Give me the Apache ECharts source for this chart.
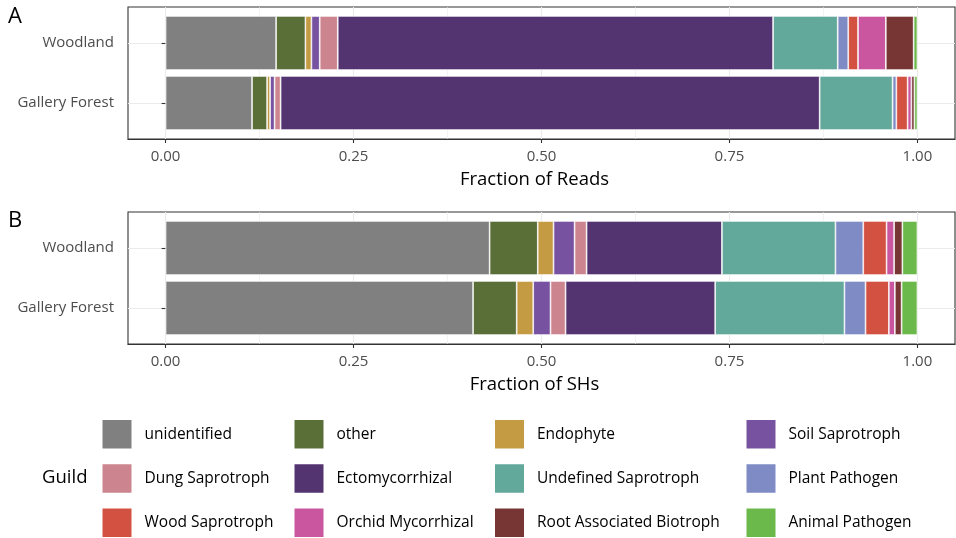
<!DOCTYPE html>
<html>
<head>
<meta charset="utf-8">
<script src="https://cdn.jsdelivr.net/npm/echarts@6/dist/echarts.min.js"></script>
<style>html,body{margin:0;padding:0;background:#fff}#c{width:956px;height:538px}</style>
</head>
<body>
<div id="c"></div>
<script>
const categories = ['Woodland', 'Gallery Forest'];
const guilds = ['unidentified', 'other', 'Endophyte', 'Soil Saprotroph',
  'Dung Saprotroph', 'Ectomycorrhizal', 'Undefined Saprotroph', 'Plant Pathogen',
  'Wood Saprotroph', 'Orchid Mycorrhizal', 'Root Associated Biotroph', 'Animal Pathogen'];
const guildColors = ['#808080', '#5a6e38', '#c49a42', '#7652a0',
  '#cc858f', '#533470', '#62a99b', '#7f8bc4',
  '#d35141', '#c9569f', '#773634', '#6bb84b'];
// Fraction of reads (panel A)
const readsWoodland = [0.147, 0.039, 0.008, 0.011, 0.024, 0.579, 0.086, 0.014, 0.013, 0.037, 0.037, 0.005];
const readsGallery  = [0.115, 0.020, 0.004, 0.006, 0.008, 0.717, 0.097, 0.005, 0.015, 0.005, 0.004, 0.004];
// Fraction of SHs (panel B)
const shsWoodland = [0.431, 0.064, 0.021, 0.028, 0.016, 0.180, 0.151, 0.037, 0.031, 0.010, 0.011, 0.020];
const shsGallery  = [0.409, 0.058, 0.022, 0.023, 0.020, 0.199, 0.172, 0.028, 0.031, 0.008, 0.009, 0.021];
const xTickValues = [0, 0.25, 0.5, 0.75, 1];
const xTickLabels = ['0.00', '0.25', '0.50', '0.75', '1.00'];
const xMinorValues = [0.125, 0.375, 0.625, 0.875];
const panelTitles = ['Fraction of Reads', 'Fraction of SHs'];

const FONT = 'Open Sans';
const GRID_LINE = '#ebebeb';
const DARK = '#333333';
const catCenters = categories.map((c, i) => 0.6 + i);

function boxAxes(gridIndex, title) {
  const xMain = {
    type: 'value', gridIndex, min: -0.05, max: 1.05, position: 'bottom',
    axisLine: {show: true, onZero: false, lineStyle: {color: DARK, width: 1.1}},
    axisTick: {show: true, length: 4, customValues: xTickValues, lineStyle: {color: DARK, width: 1.1}},
    axisLabel: {show: true, customValues: xTickValues, margin: 10, color: '#4d4d4d', fontSize: 15, fontFamily: FONT,
      formatter: v => xTickLabels[xTickValues.findIndex(t => Math.abs(t - v) < 1e-9)]},
    splitLine: {show: true, lineStyle: {color: GRID_LINE, width: 1.1}},
    name: title, nameLocation: 'middle', nameGap: 31,
    nameTextStyle: {color: '#000', fontSize: 18.5, fontFamily: FONT, padding: [0, 14, 0, 0]}
  };
  const xMinor = {
    type: 'value', gridIndex, min: -0.05, max: 1.05, position: 'top',
    axisLine: {show: false}, axisLabel: {show: false},
    axisTick: {show: false, customValues: xMinorValues},
    splitLine: {show: true, lineStyle: {color: GRID_LINE, width: 0.6}}
  };
  const y = {
    type: 'value', gridIndex, min: 0, max: 2.2, inverse: true,
    axisLine: {show: false}, axisLabel: {show: false},
    axisTick: {show: false, customValues: catCenters},
    splitLine: {show: true, lineStyle: {color: GRID_LINE, width: 1.1}}
  };
  return {x: [xMain, xMinor], y};
}
function barAxes(gridIndex) {
  return {
    x: {type: 'value', gridIndex, min: -0.05, max: 1.05, show: false},
    y: {type: 'category', gridIndex, data: categories, inverse: true,
      axisLine: {show: false},
      axisTick: {show: true, alignWithLabel: true, length: 4, lineStyle: {color: DARK, width: 1.1}},
      axisLabel: {margin: 14, color: '#4d4d4d', fontSize: 15, fontFamily: FONT},
      splitLine: {show: false}}
  };
}

const bA = boxAxes(0, panelTitles[0]), rA = barAxes(1);
const bB = boxAxes(2, panelTitles[1]), rB = barAxes(3);
const xAxis = [bA.x[0], bA.x[1], rA.x, bB.x[0], bB.x[1], rB.x];
const yAxis = [bA.y, rA.y, bB.y, rB.y];

const gridBase = {left: 128, right: 1, containLabel: false, outerBoundsMode: 'none'};
const grid = [
  Object.assign({top: 7, height: 132, show: true, borderColor: DARK, borderWidth: 1.1, backgroundColor: 'transparent'}, gridBase),
  Object.assign({top: 13, height: 120}, gridBase),
  Object.assign({top: 212, height: 132, show: true, borderColor: DARK, borderWidth: 1.1, backgroundColor: 'transparent'}, gridBase),
  Object.assign({top: 218, height: 120}, gridBase)
];

const series = [];
guilds.forEach((g, i) => {
  const common = {type: 'bar', name: g, barWidth: '90%',
    itemStyle: {color: guildColors[i], borderColor: '#ffffff', borderWidth: 0.7},
    emphasis: {disabled: true}, animation: false};
  series.push(Object.assign({}, common, {stack: 'reads', xAxisIndex: 2, yAxisIndex: 1,
    data: [readsWoodland[i], readsGallery[i]]}));
  series.push(Object.assign({}, common, {stack: 'shs', xAxisIndex: 5, yAxisIndex: 3,
    data: [shsWoodland[i], shsGallery[i]]}));
});

const legendLefts = [100.5, 292.5, 493, 744.5];
const legend = legendLefts.map((left, c) => ({
  orient: 'vertical', left, top: 418, height: 200, width: 200, padding: 0,
  itemWidth: 31, itemHeight: 30.5, itemGap: 11.8, icon: 'rect',
  selectedMode: false,
  data: [guilds[c], guilds[c + 4], guilds[c + 8]],
  textStyle: {color: '#000', fontSize: 15.5, fontFamily: FONT, padding: [0, 0, 0, 7]}
}));

const graphic = [
  {type: 'text', left: 8, top: 6, style: {text: 'A', fontSize: 22, fontFamily: FONT, fill: '#000'}},
  {type: 'text', left: 8, top: 210, style: {text: 'B', fontSize: 22, fontFamily: FONT, fill: '#000'}},
  {type: 'text', left: 42, top: 468, style: {text: 'Guild', fontSize: 18.5, fontFamily: FONT, fill: '#000'}}
];

const chart = echarts.init(document.getElementById('c'), null, {renderer: 'canvas'});
chart.setOption({
  animation: false,
  backgroundColor: '#ffffff',
  textStyle: {fontFamily: FONT},
  grid, xAxis, yAxis, series, legend, graphic,
  tooltip: {show: false}
});
</script>
</body>
</html>
